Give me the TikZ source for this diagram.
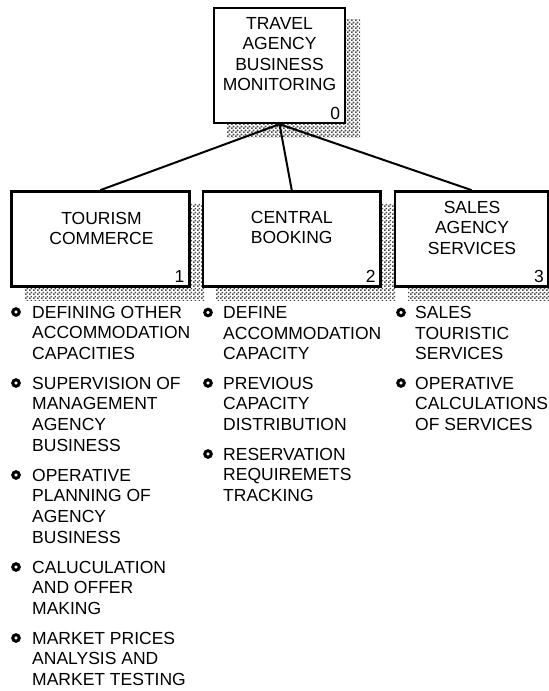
\documentclass[tikz,border=0pt]{standalone}
\usepackage{fontspec}
\setmainfont{Liberation Sans}
\usetikzlibrary{patterns,patterns.meta,backgrounds,calc}
\tikzdeclarepattern{name=chk,type=uncolored,bottom left={(0,0)},top right={(3.6bp,3.6bp)},tile size={(3.6bp,3.6bp)},
  code={\fill (0,0) rectangle (1.8bp,1.8bp); \fill (1.8bp,1.8bp) rectangle (3.6bp,3.6bp);}}
\begin{document}
\begin{tikzpicture}[x=1bp,y=-1bp,
  box/.style={draw,line width=2.4bp,fill=white,rectangle,inner sep=0},
  shadowfill/.style={pattern=chk,pattern color=black!70},
  txt/.style={font=\fontsize{17.5bp}{20.6bp}\selectfont,inner sep=0,text=black},
  boxtxt/.style={txt,align=center,anchor=north},
  numtxt/.style={txt,anchor=east},
  itemtxt/.style={txt,align=left,anchor=north west},
  bul/.style={circle,draw,line width=3bp,minimum size=6.5bp,inner sep=0},
  conn/.style={line width=2bp}
]
\useasboundingbox (0,0) rectangle (549,691);
\clip (0,0) rectangle (549,691);

% boxes
\node[box,minimum width=131bp,minimum height=115bp] (b0) at (279.5,65.5) {};
\node[box,minimum width=178bp,minimum height=95bp] (b1) at (100.4,238.8) {};
\node[box,minimum width=177.5bp,minimum height=95bp] (b2) at (291.75,238.8) {};
\node[box,minimum width=152.5bp,minimum height=95bp] (b3) at (471.5,238.8) {};

\begin{scope}[on background layer]
  \foreach \b in {b0,b1,b2,b3}
    \path[shadowfill] ([shift={(14,13)}]\b.north west) rectangle ([shift={(14,13)}]\b.south east);
\end{scope}

% box labels
\node[boxtxt] (t0) at (279.5,16.8) {TRAVEL\\AGENCY\\BUSINESS\\MONITORING};
\node[boxtxt] (t1) at (101.5,211.8) {TOURISM\\COMMERCE};
\node[boxtxt] (t2) at (291.75,210.8) {CENTRAL\\BOOKING};
\node[boxtxt] (t3) at (472,200.8) {SALES\\AGENCY\\SERVICES};

\node[numtxt] (n0) at ($(b0.south east)+(-6,-11)$) {0};
\node[numtxt] (n1) at ($(b1.south east)+(-6,-11)$) {1};
\node[numtxt] (n2) at ($(b2.south east)+(-6,-11)$) {2};
\node[numtxt] (n3) at ($(b3.south east)+(-5,-11)$) {3};

% connectors
\draw[conn] (b0.south) -- (b1.north);
\draw[conn] (b0.south) -- (b2.north);
\draw[conn] (b0.south) -- (b3.north);

% left list
\node[bul] (l1b) at (16,312) {};
\node[itemtxt] (l1) at (32,305.8) {DEFINING OTHER\\ACCOMMODATION\\CAPACITIES};
\node[bul] (l2b) at (16,383) {};
\node[itemtxt] (l2) at (32,376.8) {SUPERVISION OF\\MANAGEMENT\\AGENCY\\BUSINESS};
\node[bul] (l3b) at (16,475) {};
\node[itemtxt] (l3) at (32,468.8) {OPERATIVE\\PLANNING OF\\AGENCY\\BUSINESS};
\node[bul] (l4b) at (16,567) {};
\node[itemtxt] (l4) at (32,560.8) {CALUCULATION\\AND OFFER\\MAKING};
\node[bul] (l5b) at (16,638) {};
\node[itemtxt] (l5) at (32,631.8) {MARKET PRICES\\ANALYSIS AND\\MARKET TESTING};

% centre list
\node[bul] (c1b) at (208,312.5) {};
\node[itemtxt] (c1) at (223,306.3) {DEFINE\\ACCOMMODATION\\CAPACITY};
\node[bul] (c2b) at (208,383) {};
\node[itemtxt] (c2) at (223,376.8) {PREVIOUS\\CAPACITY\\DISTRIBUTION};
\node[bul] (c3b) at (208,454) {};
\node[itemtxt] (c3) at (223,447.8) {RESERVATION\\REQUIREMETS\\TRACKING};

% right list
\node[bul] (r1b) at (401,312.5) {};
\node[itemtxt] (r1) at (415,306.3) {SALES\\TOURISTIC\\SERVICES};
\node[bul] (r2b) at (401,383) {};
\node[itemtxt] (r2) at (415,376.8) {OPERATIVE\\CALCULATIONS\\OF SERVICES};
\end{tikzpicture}
\end{document}
